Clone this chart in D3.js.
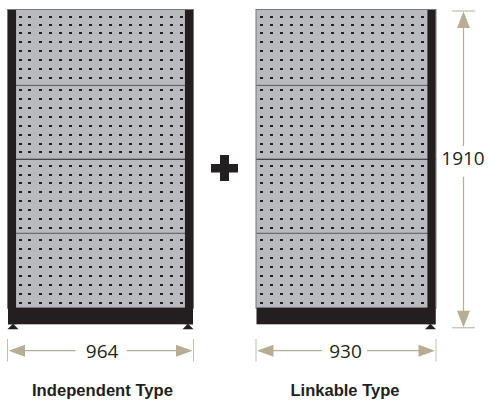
<!DOCTYPE html>
<html>
<head>
<meta charset="utf-8">
<script src="https://cdn.jsdelivr.net/npm/d3@7"></script>
<style>
  html, body { margin: 0; padding: 0; background: #fff; }
  svg { display: block; }
</style>
</head>
<body>
<div id="chart"></div>
<script>
// All sizes in mm
const totalHeight = 1910;
const widthIndependent = 964;
const widthLinkable = 930;

const holeRows = [41, 93, 142, 196, 251, 306, 360, 415,
  488, 543, 597, 652, 707, 761, 816, 865,
  948, 1001, 1050, 1104, 1159, 1214, 1268, 1323,
  1396, 1450, 1505, 1560, 1615, 1669, 1724, 1779];
const holeColsIndependent = [64, 111, 168, 220, 273, 325, 377, 429, 481, 533, 585, 637, 689, 742, 799, 851, 903];
const holeColsLinkable = [25, 77, 129, 181, 233, 285, 342, 394, 446, 498, 550, 602, 654, 706, 758, 810, 862];
const panelSeams = [458, 907, 1357];
const panelBottom = 1809;
const postWidth = 42;

const labelIndependent = "Independent Type";
const labelLinkable = "Linkable Type";

const width = 488, height = 403;
const dark = "#231f20", panel = "#b9babd", edge = "#77787b", dim = "#b5ae94";

const svg = d3.select("#chart").append("svg")
    .attr("width", width)
    .attr("height", height);

const y = d3.scaleLinear().domain([0, totalHeight]).range([10, 324.3]);
const xIndependent = d3.scaleLinear().domain([0, widthIndependent]).range([8, 193]);
const xLinkable = d3.scaleLinear().domain([0, widthLinkable]).range([256.5, 435.5]);

// Panel body, seams, holes and bottom bar for one unit
function drawUnit(x, w, holeCols, posts) {
  const g = svg.append("g");

  g.append("rect")
      .attr("x", x(0) - 0.5)
      .attr("y", y(0) - 0.5)
      .attr("width", x(w) - x(0) + 1)
      .attr("height", y(panelBottom) - y(0) + 1)
      .attr("fill", panel)
      .attr("stroke", edge)
      .attr("stroke-width", 1);

  g.selectAll(".seam")
    .data(panelSeams)
    .join("line")
      .attr("class", "seam")
      .attr("x1", x(0))
      .attr("x2", x(w))
      .attr("y1", d => y(d))
      .attr("y2", d => y(d))
      .attr("stroke", (d, i) => i === 1 ? dark : "#58595b")
      .attr("stroke-width", 1);

  // snapped to whole pixels so the holes stay crisp
  g.selectAll(".hole")
    .data(d3.cross(holeCols, holeRows))
    .join("rect")
      .attr("class", "hole")
      .attr("x", d => Math.round(x(d[0]) - 1.5))
      .attr("y", d => Math.round(y(d[1]) - 1))
      .attr("width", 3)
      .attr("height", 2)
      .attr("fill", dark);

  g.selectAll(".post")
    .data(posts)
    .join("rect")
      .attr("class", "post")
      .attr("x", d => x(d))
      .attr("y", y(0))
      .attr("width", x(postWidth) - x(0))
      .attr("height", y(totalHeight) - y(0))
      .attr("fill", dark);

  g.append("rect")
      .attr("x", x(0))
      .attr("y", y(panelBottom))
      .attr("width", x(w) - x(0))
      .attr("height", y(totalHeight) - y(panelBottom))
      .attr("fill", dark);

  return g;
}

function drawFeet(g, x, feet) {
  g.selectAll(".foot")
    .data(feet)
    .join("path")
      .attr("class", "foot")
      .attr("d", d => {
        const cx = x(d), top = y(totalHeight);
        return `M${cx},${top - 0.5}L${cx + 5.5},${top + 5}L${cx - 5.5},${top + 5}Z`;
      })
      .attr("fill", dark);
}

const unitA = drawUnit(xIndependent, widthIndependent, holeColsIndependent, [0, widthIndependent - postWidth]);
const unitB = drawUnit(xLinkable, widthLinkable, holeColsLinkable, [widthLinkable - postWidth]);
drawFeet(unitA, xIndependent, [26, 938]);
drawFeet(unitB, xLinkable, [904]);

// Plus sign between the units
const plus = svg.append("g").attr("fill", dark);
plus.append("rect").attr("x", 211).attr("y", 164).attr("width", 27).attr("height", 8.5);
plus.append("rect").attr("x", 220).attr("y", 155).attr("width", 9).attr("height", 26);

// Horizontal dimension: end ticks, line with a gap for the number, arrowheads
function dimH(x, w, gapL, gapR) {
  const g = svg.append("g");
  const cy = 350.7, x0 = x(0), x1 = x(w);

  g.selectAll(".tick")
    .data([x0 - 0.5, x1 + 0.5])
    .join("line")
      .attr("x1", d => d).attr("x2", d => d)
      .attr("y1", 339).attr("y2", 361.5)
      .attr("stroke", dim)
      .attr("stroke-width", 0.8);

  g.selectAll(".run")
    .data([[x0 + 10, gapL], [gapR, x1 - 10]])
    .join("line")
      .attr("x1", d => d[0]).attr("x2", d => d[1])
      .attr("y1", cy).attr("y2", cy)
      .attr("stroke", dim)
      .attr("stroke-width", 1.2);

  g.append("path")
      .attr("d", `M${x0 + 0.5},${cy}L${x0 + 17},${cy - 6}V${cy + 6}Z`)
      .attr("fill", dim);
  g.append("path")
      .attr("d", `M${x1 - 0.5},${cy}L${x1 - 17},${cy - 6}V${cy + 6}Z`)
      .attr("fill", dim);

  g.append("text")
      .attr("x", (gapL + gapR) / 2 + 1)
      .attr("y", cy + 7)
      .attr("text-anchor", "middle")
      .attr("font-family", "'Open Sans'")
      .attr("font-size", 19)
      .attr("fill", dark)
      .text(w);
}
dimH(xIndependent, widthIndependent, 75.5, 126.7);
dimH(xLinkable, widthLinkable, 322, 367);

// Vertical dimension on the right
const dimV = svg.append("g");
const vx = 463.5, vTop = y(0) + 1.5, vBot = y(totalHeight) + 3;
dimV.selectAll(".tick")
  .data([vTop - 0.5, vBot + 0.5])
  .join("line")
    .attr("x1", 452).attr("x2", 475)
    .attr("y1", d => d).attr("y2", d => d)
    .attr("stroke", dim)
    .attr("stroke-width", 1);
dimV.selectAll(".run")
  .data([[vTop + 10, 146], [176.7, vBot - 10]])
  .join("line")
    .attr("x1", vx).attr("x2", vx)
    .attr("y1", d => d[0]).attr("y2", d => d[1])
    .attr("stroke", dim)
    .attr("stroke-width", 1.2);
dimV.append("path")
    .attr("d", `M${vx},${vTop}L${vx + 6.5},${vTop + 16.5}H${vx - 6.5}Z`)
    .attr("fill", dim);
dimV.append("path")
    .attr("d", `M${vx},${vBot}L${vx + 6.5},${vBot - 16.5}H${vx - 6.5}Z`)
    .attr("fill", dim);
dimV.append("text")
    .attr("x", vx - 0.5)
    .attr("y", 164.5)
    .attr("text-anchor", "middle")
    .attr("font-family", "'Open Sans'")
    .attr("font-size", 19)
    .attr("fill", dark)
    .text(totalHeight);

// Captions
svg.selectAll(".caption")
  .data([[labelIndependent, 102.5], [labelLinkable, 345]])
  .join("text")
    .attr("class", "caption")
    .attr("x", d => d[1])
    .attr("y", 396.2)
    .attr("text-anchor", "middle")
    .attr("font-family", "'Liberation Sans'")
    .attr("font-weight", "bold")
    .attr("font-size", 17)
    .attr("textLength", d => d[0] === labelIndependent ? 141 : 109)
    .attr("lengthAdjust", "spacingAndGlyphs")
    .attr("fill", dark)
    .text(d => d[0]);
</script>
</body>
</html>
